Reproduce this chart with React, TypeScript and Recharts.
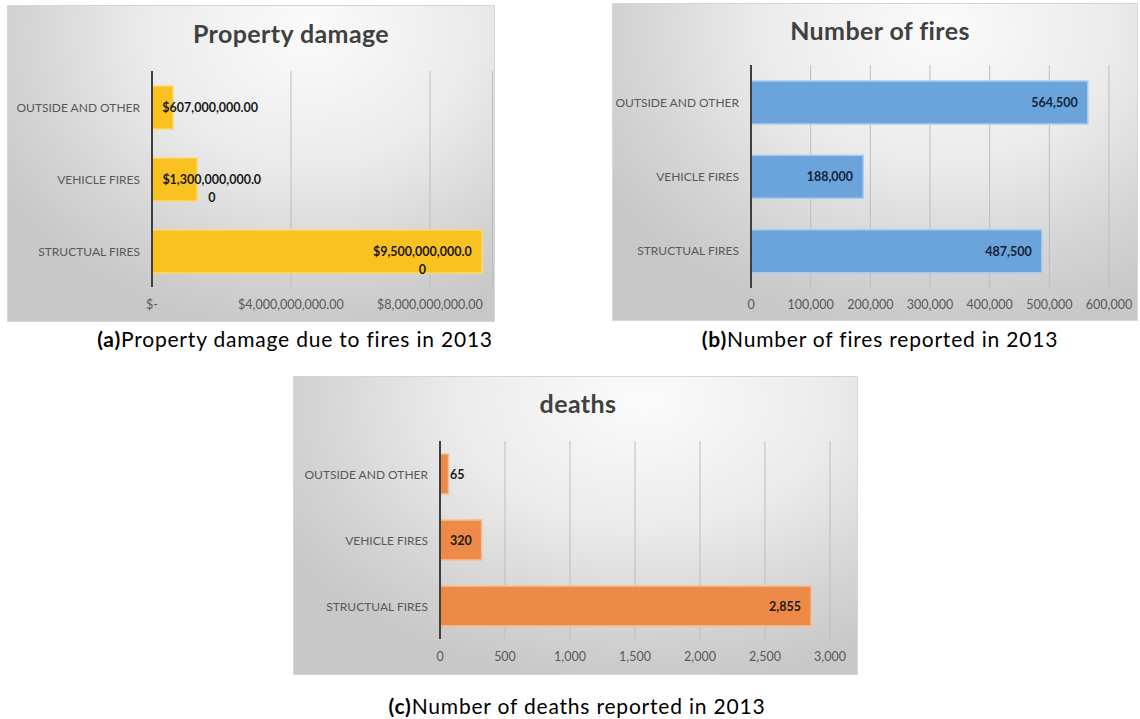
import React from 'react';
import { BarChart, Bar, XAxis, YAxis, CartesianGrid, LabelList } from 'recharts';

const categories = ['OUTSIDE AND OTHER', 'VEHICLE FIRES', 'STRUCTUAL FIRES'];
const propertyDamage = [607000000, 1300000000, 9500000000];
const numberOfFires = [564500, 188000, 487500];
const deaths = [65, 320, 2855];
const damageTicks = [0, 4000000000, 8000000000];
const fireTicks = [0, 100000, 200000, 300000, 400000, 500000, 600000];
const deathTicks = [0, 500, 1000, 1500, 2000, 2500, 3000];

const FONT = 'Lato, "Open Sans", sans-serif';

const fmtInt = (v: number) => v.toLocaleString('en-US');
const fmtMoney = (v: number) =>
  '$' + v.toLocaleString('en-US', { minimumFractionDigits: 2, maximumFractionDigits: 2 });
const fmtMoneyTick = (v: number) => (v === 0 ? '$-' : fmtMoney(v));

function textWidth(s: string, size: number) {
  let w = 0;
  for (const ch of s) {
    if (ch === ',' || ch === '.') w += 0.25 * size;
    else w += 0.58 * size;
  }
  return w;
}

const makeLabel = (format: (v: number) => string, maxChars: number, color: string) => (props: any) => {
  const { x, y, width, height, value } = props;
  const text = format(Number(value));
  const lines = text.length > maxChars ? [text.slice(0, maxChars), text.slice(maxChars)] : [text];
  const w = textWidth(lines[0], 12.5);
  const left = Number(x) + 10;
  const right = Number(x) + Number(width) - 10;
  const cx = Math.max(left + w / 2, right - w / 2);
  const cy = Number(y) + Number(height) / 2;
  return (
    <g>
      {lines.map((l, i) => (
        <text
          key={i}
          x={cx}
          y={cy + i * 17.5}
          textAnchor="middle"
          dominantBaseline="central"
          fontFamily={FONT}
          fontWeight={700}
          fontSize={12.5}
          fill={color}
        >
          {l}
        </text>
      ))}
    </g>
  );
};

const CategoryTick = (props: any) => {
  const { x, y, payload } = props;
  return (
    <text
      x={x}
      y={y}
      textAnchor="end"
      dominantBaseline="central"
      fontFamily={FONT}
      fontSize={12}
      fill="#595959"
    >
      {payload.value}
    </text>
  );
};

type PanelProps = {
  left: number;
  top: number;
  width: number;
  height: number;
  values: number[];
  ticks: number[];
  domainMax: number;
  tickFormatter: (v: number) => string;
  fill: string;
  stroke: string;
  labelFormat: (v: number) => string;
  labelMaxChars: number;
  labelColor: string;
  yAxisWidth: number;
  margin: { top: number; right: number; bottom: number; left: number };
  barSize: number;
  xTickMargin: number;
};

function Panel(p: PanelProps) {
  const data = categories.map((c, i) => ({ category: c, value: p.values[i] }));
  return (
    <div
      style={{
        position: 'absolute',
        left: p.left,
        top: p.top,
        width: p.width,
        height: p.height,
        boxSizing: 'border-box',
        border: '1px solid #d6d6d6',
        background:
          'radial-gradient(ellipse 75% 95% at 62% 8%, #fbfbfb 0%, #ebebeb 45%, #d6d6d6 75%, #c8c8c8 100%)',
      }}
    >
      <div style={{ position: 'absolute', left: -1, top: -1 }}>
        <BarChart
          width={p.width}
          height={p.height}
          data={data}
          layout="vertical"
          margin={p.margin}
          barSize={p.barSize}
        >
          <CartesianGrid horizontal={false} stroke="#bdbdbd" strokeWidth={1} />
          <XAxis
            type="number"
            domain={[0, p.domainMax]}
            ticks={p.ticks}
            interval={0}
            tickFormatter={p.tickFormatter}
            axisLine={false}
            tickLine={false}
            tickMargin={p.xTickMargin}
            height={30}
            tick={{ fill: '#595959', fontSize: 12.5, fontFamily: FONT }}
          />
          <YAxis
            type="category"
            dataKey="category"
            width={p.yAxisWidth}
            axisLine={{ stroke: '#3f3f3f', strokeWidth: 2 }}
            tickLine={false}
            tickMargin={6}
            tick={<CategoryTick />}
          />
          <Bar dataKey="value" fill={p.fill} stroke={p.stroke} strokeWidth={1.5} isAnimationActive={false}>
            <LabelList
              dataKey="value"
              content={makeLabel(p.labelFormat, p.labelMaxChars, p.labelColor)}
            />
          </Bar>
        </BarChart>
      </div>
    </div>
  );
}

export default function App() {
  return (
    <div
      style={{
        position: 'absolute',
        left: 0,
        top: 0,
        width: 1140,
        height: 719,
        background: '#ffffff',
        overflow: 'hidden',
      }}
    >
      <Panel
        left={7}
        top={5}
        width={488}
        height={317}
        values={propertyDamage}
        ticks={damageTicks}
        domainMax={9800000000}
        tickFormatter={fmtMoneyTick}
        fill="#F9C221"
        stroke="#FCD970"
        labelFormat={fmtMoney}
        labelMaxChars={16}
        labelColor="#1a1a1a"
        yAxisWidth={145}
        margin={{ top: 66, right: 2.5, bottom: 5, left: 0 }}
        barSize={43}
        xTickMargin={7}
      />
      <Panel
        left={612}
        top={3}
        width={526}
        height={318}
        values={numberOfFires}
        ticks={fireTicks}
        domainMax={600000}
        tickFormatter={fmtInt}
        fill="#6AA4DA"
        stroke="#A8CCEE"
        labelFormat={fmtInt}
        labelMaxChars={99}
        labelColor="#14233a"
        yAxisWidth={139}
        margin={{ top: 62, right: 29, bottom: 3, left: 0 }}
        barSize={43}
        xTickMargin={6}
      />
      <Panel
        left={293}
        top={376}
        width={565}
        height={299}
        values={deaths}
        ticks={deathTicks}
        domainMax={3000}
        tickFormatter={fmtInt}
        fill="#EE8A47"
        stroke="#F6BE95"
        labelFormat={fmtInt}
        labelMaxChars={99}
        labelColor="#1a1a1a"
        yAxisWidth={147}
        margin={{ top: 65, right: 28, bottom: 6, left: 0 }}
        barSize={40}
        xTickMargin={7}
      />
      <svg
        width={1140}
        height={719}
        style={{ position: 'absolute', left: 0, top: 0, pointerEvents: 'none' }}
      >
        <g
          fontFamily={FONT}
          fontWeight={700}
          fontSize={25}
          letterSpacing={0.4}
          fill="#404040"
          textAnchor="middle"
        >
          <text x={291} y={43}>Property damage</text>
          <text x={880} y={40}>Number of fires</text>
          <text x={578} y={413}>deaths</text>
        </g>
        <g fontFamily={FONT} fontSize={21} letterSpacing={0.8} fill="#000000" textAnchor="middle">
          <text x={295} y={347}>
            <tspan fontWeight={700}>(a)</tspan>Property damage due to fires in 2013
          </text>
          <text x={880} y={347}>
            <tspan fontWeight={700}>(b)</tspan>Number of fires reported in 2013
          </text>
          <text x={577} y={714}>
            <tspan fontWeight={700}>(c)</tspan>Number of deaths reported in 2013
          </text>
        </g>
      </svg>
    </div>
  );
}
